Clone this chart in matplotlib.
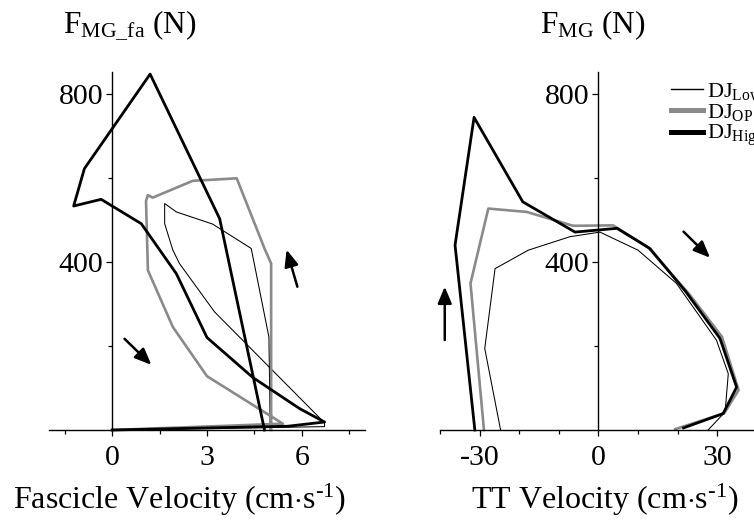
import numpy as np
import matplotlib
matplotlib.use('Agg')
import matplotlib.pyplot as plt
from matplotlib.lines import Line2D

plt.rcParams['font.family'] = ['Liberation Serif', 'DejaVu Serif']
plt.rcParams['mathtext.fontset'] = 'custom'
plt.rcParams['mathtext.rm'] = 'Liberation Serif'
plt.rcParams['mathtext.it'] = 'Liberation Serif:italic'
plt.rcParams['axes.unicode_minus'] = False

# fascicle velocity vs MG fascicle force
low_fa_x = [5.0, 4.96, 4.40, 3.18, 2.03, 1.66, 1.66, 1.92, 2.13, 3.24, 6.72, 6.72, 0.0]
low_fa_y = [0, 221, 432, 490, 519, 539, 491, 428, 396, 281, 17, 8, 0]
op_fa_x = [5.03, 5.03, 4.82, 3.94, 2.55, 1.28, 1.13, 1.07, 1.13, 1.92, 3.0, 5.40, 0.0]
op_fa_y = [0, 396, 432, 599, 593, 553, 559, 545, 380, 245, 128, 15, 0]
high_fa_x = [4.82, 3.40, 1.20, -0.88, -1.22, -0.35, 0.92, 2.03, 3.0, 4.45, 5.93, 6.72, 5.56, 0.0]
high_fa_y = [0, 503, 847, 622, 533, 549, 491, 372, 220, 125, 51, 19, 9, 0]

# TT velocity vs MG force
low_tt_x = [-24.7, -28.7, -26.1, -17.7, -7.2, 0.4, 10.0, 19.7, 29.8, 32.8, 32.0, 27.7]
low_tt_y = [0, 194, 384, 428, 460, 471, 428, 349, 214, 134, 43, 0]
op_tt_x = [-28.9, -32.3, -27.8, -18.1, -6.4, 3.7, 12.5, 22.8, 31.2, 35.4, 31.8, 19.4]
op_tt_y = [0, 349, 527, 519, 486, 487, 435, 325, 222, 95, 40, 2]
high_tt_x = [-31.2, -36.2, -31.4, -19.1, -5.9, 4.7, 13.0, 22.0, 30.7, 34.9, 31.5, 21.5]
high_tt_y = [0, 440, 744, 543, 471, 480, 432, 330, 218, 102, 39, 5]

# direction arrows (start, end) in data units
fa_arrows = [((0.39, 217), (1.24, 155)), ((5.86, 341), (5.52, 429))]
tt_arrows = [((21.5, 472), (28.2, 410)), ((-38.8, 214), (-38.8, 341))]

labels = ['DJ$_{\\mathrm{Low}}$', 'DJ$_{\\mathrm{OP}}$', 'DJ$_{\\mathrm{High}}$']
gray = '#8a8a8a'

W, H = 754, 520
fig = plt.figure(figsize=(W / 100, H / 100), dpi=100)
ax1 = fig.add_axes([49 / W, 90 / H, 316 / W, 358 / H])
ax2 = fig.add_axes([440 / W, 90 / H, 316.8 / W, 358 / H])


def style(ax, xlim, xmaj, xmin):
    ax.set_xlim(xlim)
    ax.set_ylim(0, 852)
    for s in ['top', 'right']:
        ax.spines[s].set_visible(False)
    ax.spines['left'].set_position(('data', 0))
    ax.spines['bottom'].set_position(('data', 0))
    ax.spines['left'].set_linewidth(1.0)
    ax.spines['bottom'].set_linewidth(1.0)
    ax.set_xticks(xmaj)
    ax.set_xticks(xmin, minor=True)
    ax.set_yticks([400, 800])
    ax.set_yticks([200, 600], minor=True)
    ax.tick_params(axis='both', which='major', direction='out', length=4.5, width=0.9,
                   labelsize=21.5)
    ax.tick_params(axis='both', which='minor', direction='out', length=3, width=0.9)
    ax.tick_params(axis='x', which='major', pad=6)
    ax.tick_params(axis='y', which='major', pad=2)
    ax.patch.set_visible(False)


def draw_arrows(ax, arrows):
    for (x0, y0), (x1, y1) in arrows:
        ax.annotate('', xy=(x1, y1), xytext=(x0, y0),
                    arrowprops=dict(arrowstyle='-|>,head_length=1.0,head_width=0.42',
                                    lw=1.8, color='k', shrinkA=0, shrinkB=0,
                                    mutation_scale=10))


ax1.plot(low_fa_x, low_fa_y, color='k', lw=0.75, clip_on=False)
ax1.plot(op_fa_x, op_fa_y, color=gray, lw=1.9, clip_on=False)
ax1.plot(high_fa_x, high_fa_y, color='k', lw=2.0, clip_on=False)
style(ax1, (-2, 8), [0, 3, 6], [-1.5, 1.5, 4.5, 7.5])
draw_arrows(ax1, fa_arrows)

ax2.plot(low_tt_x, low_tt_y, color='k', lw=0.75, clip_on=False)
ax2.plot(op_tt_x, op_tt_y, color=gray, lw=1.9, clip_on=False)
ax2.plot(high_tt_x, high_tt_y, color='k', lw=2.0, clip_on=False)
style(ax2, (-40, 40), [-30, 0, 30], [-40, -20, -10, 10, 20, 40])
draw_arrows(ax2, tt_arrows)

handles = [Line2D([], [], color='k', lw=1.0),
           Line2D([], [], color=gray, lw=3.6),
           Line2D([], [], color='k', lw=3.6)]
fig.legend(handles, labels, loc='upper left', bbox_to_anchor=(671 / W, 1 - 81 / H),
           frameon=False, fontsize=16, handlelength=1.42, handletextpad=0.22,
           labelspacing=0.0, borderpad=0, borderaxespad=0)

fig.text(63 / W, 1 - 33 / H, 'F$_{\\mathrm{MG\\_fa}}$ (N)', fontsize=22.5,
         ha='left', va='baseline')
fig.text(593 / W, 1 - 33 / H, 'F$_{\\mathrm{MG}}$ (N)', fontsize=22.5,
         ha='center', va='baseline')
fig.text(180 / W, 1 - 509 / H, 'Fascicle Velocity (cm$\\cdot$s$^{\\mathrm{\u2010}1}$)',
         fontsize=23, ha='center', va='baseline')
fig.text(605 / W, 1 - 509 / H, 'TT Velocity (cm$\\cdot$s$^{\\mathrm{\u2010}1}$)',
         fontsize=23, ha='center', va='baseline')

fig.savefig('out.png', dpi=100)
